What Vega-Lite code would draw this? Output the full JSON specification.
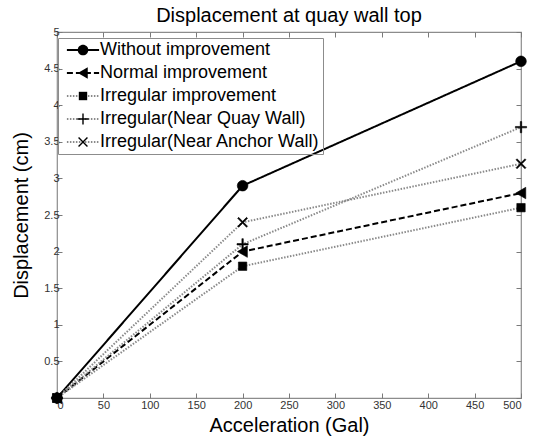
{
  "$schema": "https://vega.github.io/schema/vega-lite/v6.json",
  "width": 464,
  "height": 366,
  "autosize": {"type": "none"},
  "padding": {"left": 57, "top": 32, "right": 15, "bottom": 41},
  "background": "white",
  "title": {"text": "Displacement at quay wall top", "fontSize": 20, "fontWeight": "normal", "font": "Liberation Sans", "color": "black", "offset": 0},
  "config": {
    "font": "Liberation Sans",
    "view": {"stroke": "#8c8c8c", "strokeWidth": 1.2},
    "axis": {"grid": false, "domain": false, "tickColor": "#7a7a7a", "tickWidth": 1, "labelColor": "#333333", "labelFont": "Liberation Sans", "labelFontSize": 11, "titleFont": "Liberation Sans", "titleFontSize": 20, "titleFontWeight": "normal", "titleColor": "black"}
  },
  "data": {
    "values": [
      {"series": "Without improvement", "accel": 0, "disp": 0},
      {"series": "Without improvement", "accel": 200, "disp": 2.9},
      {"series": "Without improvement", "accel": 500, "disp": 4.6},
      {"series": "Normal improvement", "accel": 0, "disp": 0},
      {"series": "Normal improvement", "accel": 200, "disp": 2.0},
      {"series": "Normal improvement", "accel": 500, "disp": 2.8},
      {"series": "Irregular improvement", "accel": 0, "disp": 0},
      {"series": "Irregular improvement", "accel": 200, "disp": 1.8},
      {"series": "Irregular improvement", "accel": 500, "disp": 2.6},
      {"series": "Irregular(Near Quay Wall)", "accel": 0, "disp": 0},
      {"series": "Irregular(Near Quay Wall)", "accel": 200, "disp": 2.1},
      {"series": "Irregular(Near Quay Wall)", "accel": 500, "disp": 3.7},
      {"series": "Irregular(Near Anchor Wall)", "accel": 0, "disp": 0},
      {"series": "Irregular(Near Anchor Wall)", "accel": 200, "disp": 2.4},
      {"series": "Irregular(Near Anchor Wall)", "accel": 500, "disp": 3.2}
    ]
  },
  "layer": [
    {
      "mark": {"type": "line"},
      "encoding": {
        "x": {"field": "accel", "type": "quantitative", "scale": {"domain": [0, 500], "nice": false},
              "axis": {"orient": "bottom", "title": "Acceleration (Gal)", "values": [0,50,100,150,200,250,300,350,400,450,500], "tickSize": -5, "labelPadding": 6, "titlePadding": 5}},
        "y": {"field": "disp", "type": "quantitative", "scale": {"domain": [0, 5], "nice": false},
              "axis": {"orient": "left", "title": "Displacement (cm)", "values": [0,0.5,1,1.5,2,2.5,3,3.5,4,4.5,5], "format": "~g", "tickSize": -5, "labelPadding": 3, "titlePadding": 12}},
        "color": {"field": "series", "type": "nominal",
                  "scale": {"domain": ["Without improvement", "Normal improvement", "Irregular improvement", "Irregular(Near Quay Wall)", "Irregular(Near Anchor Wall)"],
                            "range": ["black", "black", "#8a8a8a", "#8a8a8a", "#8a8a8a"]},
                  "legend": {"orient": "none", "legendX": 1, "legendY": 6, "title": null, "symbolType": "M-2.3,0H2.3", "symbolSize": 196, "padding": 3, "rowPadding": 5, "labelFontSize": 18, "labelFont": "Liberation Sans", "labelColor": "black", "strokeColor": "#8c8c8c", "symbolOffset": 13, "labelOffset": 8, "labelLimit": 400}},
        "strokeDash": {"field": "series", "type": "nominal",
                  "scale": {"domain": ["Without improvement", "Normal improvement", "Irregular improvement", "Irregular(Near Quay Wall)", "Irregular(Near Anchor Wall)"],
                            "range": [[1, 0], [6, 3], [1.5, 1.5], [1.5, 1.5], [1.5, 1.5]]}},
        "strokeWidth": {"field": "series", "type": "nominal",
                  "scale": {"domain": ["Without improvement", "Normal improvement", "Irregular improvement", "Irregular(Near Quay Wall)", "Irregular(Near Anchor Wall)"],
                            "range": [2, 2, 1.4, 1.4, 1.4]}}
      }
    },
    {
      "mark": {"type": "point", "filled": true, "color": "black", "stroke": "black", "strokeWidth": 0.6, "size": 196, "opacity": 1},
      "encoding": {
        "x": {"field": "accel", "type": "quantitative", "axis": {"orient": "top", "title": null, "labels": false, "values": [0,50,100,150,200,250,300,350,400,450,500], "tickSize": -5}},
        "y": {"field": "disp", "type": "quantitative", "axis": {"orient": "right", "title": null, "labels": false, "values": [0,0.5,1,1.5,2,2.5,3,3.5,4,4.5,5], "tickSize": -5}},
        "shape": {"field": "series", "type": "nominal",
                  "sort": ["Without improvement", "Normal improvement", "Irregular improvement", "Irregular(Near Quay Wall)", "Irregular(Near Anchor Wall)"],
                  "scale": {"range": [
                    "M0.76,0A0.76,0.76 0 1,1 -0.76,0A0.76,0.76 0 1,1 0.76,0Z",
                    "M-0.74,0L0.68,-0.82L0.68,0.82Z",
                    "M-0.6,-0.6H0.6V0.6H-0.6Z",
                    "M-0.8,-0.1H-0.1V-0.8H0.1V-0.1H0.8V0.1H0.1V0.8H-0.1V0.1H-0.8Z",
                    "M-0.566,-0.707L0,-0.141L0.566,-0.707L0.707,-0.566L0.141,0L0.707,0.566L0.566,0.707L0,0.141L-0.566,0.707L-0.707,0.566L-0.141,0L-0.707,-0.566Z"
                  ]},
                  "legend": {"orient": "none", "legendX": 1, "legendY": 6, "title": null, "symbolSize": 196, "padding": 3, "rowPadding": 5, "labelFontSize": 18, "labelFont": "Liberation Sans", "labelOpacity": 0, "symbolOffset": 13, "labelOffset": 8, "labelLimit": 400, "symbolFillColor": "black", "symbolStrokeColor": "black", "symbolStrokeWidth": 0.6, "symbolOpacity": 1}}
      }
    }
  ]
}
